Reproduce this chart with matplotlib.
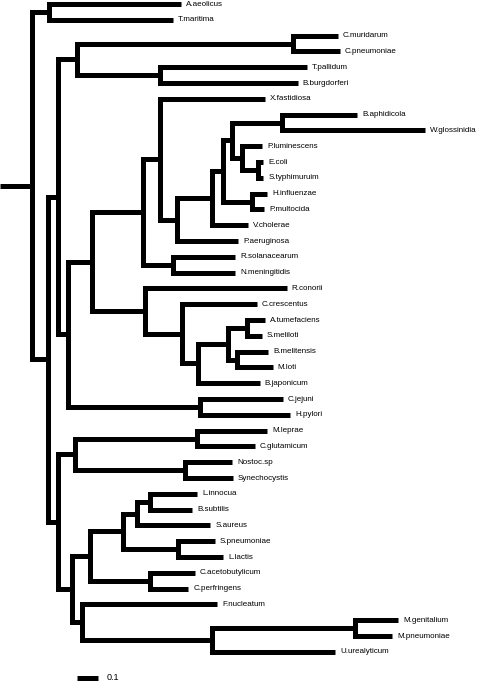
import matplotlib.pyplot as plt

# tree topology with branch lengths (newick)
newick = (
    "((A.aeolicus:0.629,T.maritima:0.590):0.081,"
    "((((C.muridarum:0.214,C.pneumoniae:0.224):1.029,"
    "(T.pallidum:0.700,B.burgdorferi:0.657):0.395):0.090,"
    "((("
    "(X.fastidiosa:0.500,"
    "(((((B.aphidicola:0.357,W.glossinidia:0.681):0.238,"
    "(P.luminescens:0.095,(E.coli:0.024,S.typhimuruim:0.024):0.076):0.048):0.043,"
    "(H.influenzae:0.071,P.multocida:0.057):0.138):0.052,"
    "V.cholerae:0.171):0.167,"
    "P.aeruginosa:0.290):0.081):0.081,"
    "(R.solanacearum:0.295,N.meningitidis:0.295):0.143):0.243,"
    "(R.conorii:0.676,"
    "(C.crescentus:0.357,"
    "(((A.tumefaciens:0.086,S.meliloti:0.071):0.090,"
    "(B.melitensis:0.148,M.loti:0.171):0.043):0.143,"
    "B.japonicum:0.295):0.076):0.176):0.252):0.114,"
    "(C.jejuni:0.395,H.pylori:0.429):0.629):0.048):0.048,"
    "(((M.leprae:0.333,C.glutamicum:0.276):0.581,"
    "(Nostoc.sp:0.224,Synechocystis:0.229):0.524):0.081,"
    "(((((L.innocua:0.224,B.subtilis:0.200):0.062,S.aureus:0.348):0.067,"
    "(S.pneumoniae:0.176,L.lactis:0.214):0.262):0.157,"
    "(C.acetobutylicum:0.214,C.perfringens:0.181):0.286):0.086,"
    "(F.nucleatum:0.643,"
    "((M.genitalium:0.205,M.pneumoniae:0.176):0.681,"
    "U.urealyticum:0.586):0.619):0.048):0.067):0.048):0.076):0.152;"
)

scale_len = 0.1
scale_label = "0.1"


def parse(s, i=0):
    kids = []
    if s[i] == '(':
        i += 1
        while True:
            kid, i = parse(s, i)
            kids.append(kid)
            c = s[i]
            i += 1
            if c == ')':
                break
    j = i
    while s[j] not in ':,);':
        j += 1
    name = s[i:j]
    i = j
    length = 0.0
    if s[i] == ':':
        j = i + 1
        while s[j] not in ',);':
            j += 1
        length = float(s[i + 1:j])
        i = j
    return {'name': name, 'len': length, 'kids': kids}, i


root, _ = parse(newick)

leaves = []


def layout(node, x0):
    node['x'] = x0 + node['len']
    if not node['kids']:
        node['y'] = len(leaves)
        leaves.append(node)
    else:
        for k in node['kids']:
            layout(k, node['x'])
        node['y'] = (node['kids'][0]['y'] + node['kids'][-1]['y']) / 2


layout(root, 0.0)

# pixel -> data mapping: 0.1 units = 21 px, leaf rows 15.8 px apart
W, H = 478, 682
px_x = 210.0
row = 15.8
top = 4.0

fig = plt.figure(figsize=(W / 100, H / 100), dpi=100)
ax = fig.add_axes([0, 0, 1, 1])
ax.set_xlim(0, W / px_x)
ax.set_ylim((H - top) / row, -top / row)
ax.axis('off')

lw = 3.6
kw = dict(color='black', lw=lw, solid_joinstyle='miter', solid_capstyle='butt')

# root stem
ax.plot([0, root['x']], [root['y'], root['y']], **kw)


def draw(node):
    if not node['kids']:
        ax.annotate(node['name'], (node['x'], node['y']), xytext=(3.6, 0),
                    textcoords='offset points', va='center', ha='left',
                    fontsize=5.8, family='Liberation Sans')
        return
    a, b = node['kids'][0], node['kids'][-1]
    ax.plot([a['x'], node['x'], node['x'], b['x']],
            [a['y'], a['y'], b['y'], b['y']], **kw)
    for k in node['kids'][1:-1]:
        ax.plot([node['x'], k['x']], [k['y'], k['y']], **kw)
    for k in node['kids']:
        draw(k)


draw(root)

# scale bar
sx = 77 / px_x
sy = (678 - top) / row
ax.plot([sx, sx + scale_len], [sy, sy], **kw)
ax.annotate(scale_label, (sx + scale_len, sy), xytext=(6.5, 0),
            textcoords='offset points', va='center', ha='left',
            fontsize=6.5, family='Liberation Sans')

fig.savefig('out.png', dpi=100)
